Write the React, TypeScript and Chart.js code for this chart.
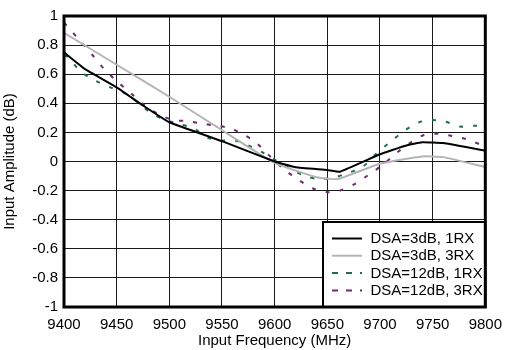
import React, { useEffect, useRef } from "react";
import { Chart, registerables } from "chart.js";

Chart.register(...registerables);

const xTickValues = [9400, 9450, 9500, 9550, 9600, 9650, 9700, 9750, 9800];
const yTickValues = [-1, -0.8, -0.6, -0.4, -0.2, 0, 0.2, 0.4, 0.6, 0.8, 1];

const seriesLabels = ["DSA=3dB, 1RX", "DSA=3dB, 3RX", "DSA=12dB, 1RX", "DSA=12dB, 3RX"];

const freq3dB1RX = [9400, 9420, 9450, 9475, 9500, 9550, 9600, 9620, 9650, 9662, 9700, 9725, 9740, 9760, 9800];
const amp3dB1RX = [0.75, 0.635, 0.51, 0.385, 0.27, 0.14, 0.0, -0.04, -0.058, -0.07, 0.05, 0.11, 0.132, 0.127, 0.075];

const freq3dB3RX = [9400, 9450, 9500, 9550, 9600, 9640, 9660, 9700, 9740, 9760, 9800];
const amp3dB3RX = [0.885, 0.665, 0.445, 0.215, -0.01, -0.108, -0.12, -0.015, 0.035, 0.03, -0.038];

const freq12dB1RX = [9400, 9404, 9416, 9430, 9444, 9458, 9471, 9484, 9497, 9509, 9523, 9536, 9550, 9563, 9576, 9590, 9604, 9617, 9629, 9642, 9656, 9669, 9683, 9696, 9710, 9723, 9736, 9749, 9762, 9776, 9789, 9800];
const amp12dB1RX = [0.73, 0.716, 0.617, 0.555, 0.51, 0.468, 0.4, 0.326, 0.285, 0.258, 0.23, 0.165, 0.145, 0.143, 0.107, 0.056, -0.005, -0.058, -0.1, -0.12, -0.11, -0.08, -0.04, 0.05, 0.136, 0.21, 0.267, 0.285, 0.274, 0.24, 0.245, 0.245];

const freq12dB3RX = [9400, 9404, 9416, 9427, 9438, 9450, 9463, 9477, 9490, 9504, 9517, 9530, 9543, 9556, 9570, 9583, 9596, 9609, 9623, 9636, 9649, 9662, 9676, 9689, 9703, 9716, 9729, 9742, 9756, 9769, 9782, 9795, 9800];
const amp12dB3RX = [0.955, 0.922, 0.823, 0.732, 0.636, 0.553, 0.473, 0.384, 0.324, 0.285, 0.278, 0.262, 0.247, 0.232, 0.187, 0.125, 0.033, -0.054, -0.127, -0.184, -0.21, -0.2, -0.155, -0.093, -0.02, 0.06, 0.13, 0.182, 0.19, 0.175, 0.153, 0.118, 0.11];

const seriesColors = ["#000000", "#b4b4b4", "#1f6e4b", "#6b2d6b"];
const FONT = "'Liberation Sans', Arial, sans-serif";

function pts(xs: number[], ys: number[]) {
  return xs.map((x, i) => ({ x, y: ys[i] }));
}

const frameAndLegend = {
  id: "frameAndLegend",
  afterDraw(chart: any) {
    const { ctx, chartArea } = chart;
    const { left, top, right, bottom } = chartArea;
    ctx.save();
    ctx.strokeStyle = "#000";

    // legend box
    const bx = 323, by = 222, bw = right - 323, bh = bottom - 222;
    ctx.fillStyle = "#fff";
    ctx.fillRect(bx, by, bw, bh);
    ctx.lineWidth = 2;
    ctx.strokeRect(bx, by, bw, bh);
    ctx.lineWidth = 3;
    ctx.strokeRect(left, top, right - left, bottom - top);

    const rows = [238.5, 255.7, 273, 290.5];
    ctx.font = `15px ${FONT}`;
    ctx.textBaseline = "middle";
    ctx.textAlign = "left";
    chart.data.datasets.forEach((ds: any, i: number) => {
      const y = rows[i];
      ctx.beginPath();
      ctx.strokeStyle = ds.borderColor;
      ctx.lineWidth = 2;
      ctx.setLineDash(ds.borderDash && ds.borderDash.length ? [6, 8] : []);
      ctx.moveTo(332, y);
      ctx.lineTo(362, y);
      ctx.stroke();
      ctx.setLineDash([]);
      ctx.fillStyle = "#000";
      ctx.fillText(ds.label, 370.5, y + 0.5);
    });
    ctx.restore();
  },
};

export default function App() {
  const ref = useRef<HTMLCanvasElement | null>(null);

  useEffect(() => {
    document.body.style.margin = "0";
    const canvas = ref.current;
    if (!canvas) return;
    const font = { family: FONT, size: 15 };
    const chart = new Chart(canvas, {
      type: "line",
      data: {
        datasets: [
          { label: seriesLabels[0], data: pts(freq3dB1RX, amp3dB1RX), borderColor: seriesColors[0], borderWidth: 2, pointRadius: 0, tension: 0.1, fill: false },
          { label: seriesLabels[1], data: pts(freq3dB3RX, amp3dB3RX), borderColor: seriesColors[1], borderWidth: 2, pointRadius: 0, tension: 0.15, fill: false },
          { label: seriesLabels[2], data: pts(freq12dB1RX, amp12dB1RX), borderColor: seriesColors[2], borderWidth: 2, borderDash: [4, 10], pointRadius: 0, tension: 0.3, fill: false },
          { label: seriesLabels[3], data: pts(freq12dB3RX, amp12dB3RX), borderColor: seriesColors[3], borderWidth: 2, borderDash: [4, 10], pointRadius: 0, tension: 0.3, fill: false },
        ],
      },
      options: {
        responsive: false,
        animation: false,
        layout: { padding: { top: 16, right: 16, left: 0, bottom: 0 } },
        plugins: { legend: { display: false }, tooltip: { enabled: false } },
        scales: {
          x: {
            type: "linear",
            min: 9400,
            max: 9800,
            afterBuildTicks: (s: any) => {
              s.ticks = xTickValues.map((v) => ({ value: v }));
            },
            afterFit: (s: any) => {
              s.height = 43;
            },
            ticks: { font, color: "#000", padding: 9, maxRotation: 0, autoSkip: false, callback: (v: any) => String(v) },
            grid: { color: "#1a1a1a", lineWidth: 1, drawTicks: false },
            border: { display: false },
            title: { display: true, text: "Input Frequency (MHz)", font, color: "#000", padding: { top: 0, bottom: 0 } },
          },
          y: {
            type: "linear",
            min: -1,
            max: 1,
            afterBuildTicks: (s: any) => {
              s.ticks = yTickValues.map((v) => ({ value: v }));
            },
            afterFit: (s: any) => {
              s.width = 64;
            },
            ticks: {
              font,
              color: "#000",
              padding: 6,
              autoSkip: false,
              callback: (v: any) => {
                const r = Math.round(Number(v) * 10) / 10;
                return r === 0 ? "0" : String(r);
              },
            },
            grid: { color: "#1a1a1a", lineWidth: 1, drawTicks: false },
            border: { display: false },
            title: { display: true, text: "Input Amplitude (dB)", font, color: "#000", padding: { top: 1, bottom: 0 } },
          },
        },
      },
      plugins: [frameAndLegend],
    });
    return () => chart.destroy();
  }, []);

  return <canvas ref={ref} width={511} height={350} style={{ display: "block" }} />;
}
